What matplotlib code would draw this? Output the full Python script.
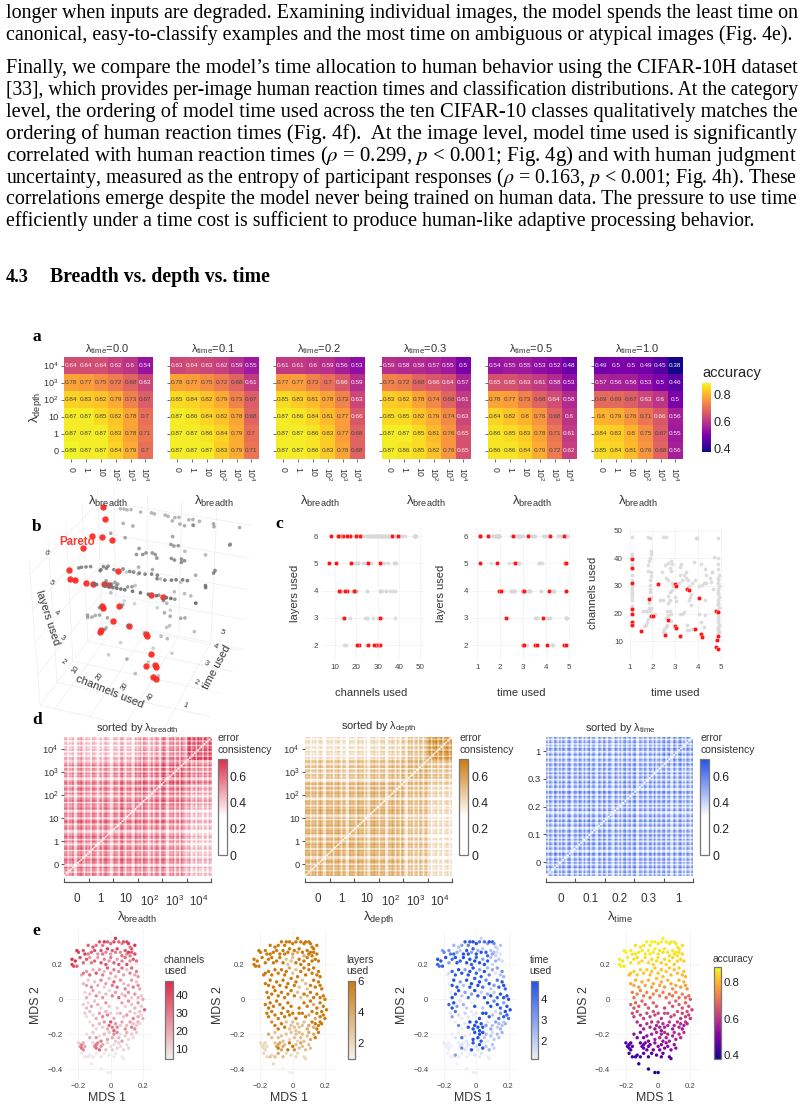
import numpy as np
import matplotlib
matplotlib.use("Agg")
import matplotlib.pyplot as plt
from matplotlib.cm import ScalarMappable
from matplotlib.colors import LinearSegmentedColormap, Normalize

W, H = 805, 1110
plt.rcParams["font.family"] = ["Liberation Sans", "DejaVu Sans"]
plt.rcParams["mathtext.fontset"] = "custom"
plt.rcParams["mathtext.rm"] = "Liberation Sans"
plt.rcParams["mathtext.it"] = "Liberation Sans:italic"
plt.rcParams["mathtext.bf"] = "Liberation Sans:bold"
plt.rcParams["grid.color"] = "#eeeeee"
plt.rcParams["grid.linewidth"] = 0.5

# ---------- body text ----------
para_lines = [
    ("longer when inputs are degraded. Examining individual images, the model spends the least time on", 18, 792),
    ("canonical, easy-to-classify examples and the most time on ambiguous or atypical images (Fig. 4e).", 40, 782),
    ("Finally, we compare the model\u2019s time allocation to human behavior using the CIFAR-10H dataset", 73, 792),
    ("[33], which provides per-image human reaction times and classification distributions. At the category", 95, 792),
    ("level, the ordering of model time used across the ten CIFAR-10 classes qualitatively matches the", 117, 792),
    ("ordering of human reaction times (Fig. 4f).  At the image level, model time used is significantly", 139, 792),
    ("correlated with human reaction times ($\\rho$ = 0.299, $p$ < 0.001; Fig. 4g) and with human judgment", 161, 792),
    ("uncertainty, measured as the entropy of participant responses ($\\rho$ = 0.163, $p$ < 0.001; Fig. 4h). These", 183, 792),
    ("correlations emerge despite the model never being trained on human data. The pressure to use time", 204, 792),
    ("efficiently under a time cost is sufficient to produce human-like adaptive processing behavior.", 226, 744),
]

# ---------- panel a: accuracy grids (rows run from lambda_depth 10^4 down to 0) ----------
lambda_time_labels = ["0.0", "0.1", "0.2", "0.3", "0.5", "1.0"]
penalty_labels = ["0", "1", "10", "$10^2$", "$10^3$", "$10^4$"]
acc_t00 = [[.64, .64, .64, .62, .6, .54], [.78, .77, .75, .72, .68, .63], [.84, .83, .82, .79, .73, .67],
           [.87, .87, .85, .82, .78, .7], [.87, .87, .87, .83, .78, .71], [.88, .87, .87, .84, .79, .7]]
acc_t01 = [[.63, .64, .63, .62, .59, .55], [.78, .77, .75, .72, .68, .61], [.85, .84, .82, .79, .73, .67],
           [.87, .86, .84, .82, .78, .68], [.87, .87, .86, .84, .79, .7], [.87, .87, .87, .83, .79, .71]]
acc_t02 = [[.61, .61, .6, .59, .56, .53], [.77, .77, .73, .7, .66, .59], [.85, .83, .81, .78, .73, .63],
           [.87, .86, .84, .81, .77, .66], [.87, .87, .86, .83, .77, .68], [.87, .87, .86, .83, .78, .68]]
acc_t03 = [[.59, .58, .58, .57, .55, .5], [.73, .72, .68, .66, .64, .57], [.83, .82, .78, .74, .68, .61],
           [.85, .85, .82, .79, .74, .63], [.87, .87, .85, .81, .76, .65], [.87, .86, .85, .82, .76, .65]]
acc_t05 = [[.54, .55, .55, .53, .52, .48], [.65, .65, .63, .61, .58, .53], [.78, .77, .73, .68, .64, .58],
           [.84, .82, .8, .76, .68, .6], [.86, .85, .83, .78, .71, .61], [.86, .86, .84, .79, .72, .62]]
acc_t10 = [[.49, .5, .5, .49, .45, .38], [.57, .56, .56, .53, .5, .46], [.69, .69, .67, .63, .6, .5],
           [.8, .79, .76, .71, .66, .56], [.84, .83, .8, .75, .67, .55], [.85, .84, .81, .76, .68, .56]]

# ---------- panels b, c: per-network resource use ----------
pareto_time = [1.1, 1.1, 1.1, 1.1, 1.1, 1.1, 1.1, 1.48, 1.84, 1.95, 2.03, 2.24, 2.66, 2.56, 3.0, 3.05,
               3.0, 3.05, 3.22, 3.52, 3.6, 3.86, 4.03, 4.1, 4.17, 4.78, 4.88, 4.85, 4.8, 4.77, 4.88]
pareto_channels = [39.7, 36.6, 31.1, 21.7, 20, 17.1, 15.7, 13.7, 25.3, 19.3, 19.1, 30.9, 17.6, 12.3, 30.9, 29.9,
                   15.4, 14.8, 11.8, 29, 28.4, 14.4, 25.5, 12.5, 11.4, 21.1, 20.5, 11.9, 10.4, 8, 7.2]
pareto_layers = [6, 6, 5, 6, 6, 6, 6, 6, 5, 4, 4, 3, 5, 6, 2, 2, 4, 4, 6, 2, 2, 3, 2, 4, 6, 2, 2, 4, 5, 6, 5]

other_time = [1.1, 1.1, 1.1, 1.1, 1.1, 1.1, 1.1, 1.1, 1.1, 1.1, 1.1, 1.1, 1.1, 1.1, 1.1,
              1.8, 1.88, 2.48, 2.6, 3.9, 3.95, 4.87,
              1.95, 1.95, 1.9, 1.85, 1.8, 1.8, 1.95, 1.95, 1.9, 1.9, 1.9, 1.9, 1.95, 1.85, 1.6, 1.7, 1.75, 1.85, 1.9, 1.95, 2.1, 1.8, 1.75, 1.65, 1.7,
              2.4, 2.55, 2.7, 2.8, 2.85, 2.75, 2.8, 2.6, 2.7, 2.85, 2.9, 2.75, 2.85, 2.7, 2.75, 2.7, 2.45, 2.35, 2.65, 2.75, 2.8, 2.7, 2.6, 2.7, 2.65, 2.6, 2.5, 2.45, 2.55, 2.8,
              3, 3.05, 3.2, 3.25, 3.2, 3.15, 3.3, 3.4, 3.45, 3.45, 3.55, 3.6, 3.75, 3.85, 3.7, 3.65, 3.6, 3.7, 3.2, 3.3, 3.4, 3.5, 3.5, 3.6, 3.75, 3.8,
              4.1, 4.3, 4.05, 4.15, 4.25, 4.35, 4.35, 4.5, 4.6, 4.55, 4.65, 4.3, 4.3, 4.05, 4.1, 4.25, 4.7, 4.6,
              4.85, 4.88, 4.86, 4.9, 4.85, 4.88, 4.87, 4.9, 4.85, 4.88, 4.86, 4.9, 4.85, 4.88, 4.87, 4.9, 4.85, 4.88, 4.86, 4.9, 4.85, 4.88, 4.87, 4.9, 4.85]
other_channels = [47.7, 41.6, 40.5, 38, 36, 34, 32, 30, 29, 28, 27, 26, 25, 22.8, 22,
                  47.8, 47.5, 47.6, 47.6, 47.4, 47.4, 47.2,
                  42.7, 41.5, 40, 39, 37.5, 35.5, 35, 33.5, 32, 30.5, 29, 28, 26, 24, 21, 21, 21, 22, 21, 22, 20, 18, 17, 15.5, 16,
                  35, 37.5, 38.5, 39, 38, 36.5, 35.5, 33, 32, 31, 30, 28, 28.5, 26.5, 25, 24, 25, 25, 21, 21, 20, 19.5, 18.5, 18, 16, 15, 14.5, 13.5, 13, 17.5,
                  26, 24.5, 37, 38, 34, 31, 32, 34, 35, 33, 32, 30, 31, 32, 27, 26, 25, 23, 20, 20, 20.5, 16, 14, 14, 14.5, 38.8,
                  38, 36, 30, 30.5, 31, 31, 34, 33, 35, 31.5, 29, 25, 19.5, 20, 17, 15, 40.6, 35.2,
                  40, 38, 36, 34, 33, 32, 31, 30, 29, 28, 27, 26, 25, 24, 23, 22, 19, 18, 17, 16, 15, 14.5, 14, 13.5, 13]
other_layers = [6, 6, 6, 6, 6, 6, 6, 6, 6, 6, 6, 6, 6, 6, 6,
                6, 6, 6, 6, 6, 6, 6,
                6, 6, 6, 6, 6, 6, 6, 6, 6, 6, 6, 6, 6, 6, 5, 6, 6, 6, 6, 6, 4, 6, 6, 6, 6,
                5, 5, 6, 6, 6, 6, 6, 5, 6, 6, 6, 6, 6, 6, 5, 5, 4, 3, 5, 5, 5, 5, 4, 5, 4, 4, 4, 4, 4, 5,
                6, 2, 4, 4, 4, 2, 4, 6, 6, 6, 3, 3, 4, 6, 5, 2, 3, 5, 4, 4, 6, 6, 3, 2, 4, 5,
                3, 4, 3, 3, 2, 4, 4, 6, 6, 6, 6, 2, 4, 6, 6, 2, 6, 6,
                6, 5, 6, 6, 6, 5, 4, 6, 6, 3, 6, 6, 4, 3, 6, 6, 6, 4, 3, 6, 6, 4, 6, 3, 6]

# ---------- panel d: error consistency, block means and per-network stripe strengths ----------
consistency_breadth = [[.5, .5, .5, .49, .47, .39], [.5, .51, .5, .49, .47, .38], [.5, .5, .51, .5, .48, .39],
                       [.49, .49, .5, .52, .52, .44], [.47, .47, .48, .52, .55, .49], [.39, .38, .39, .44, .49, .58]]
consistency_depth = [[.5, .5, .5, .49, .45, .35], [.5, .51, .5, .49, .45, .35], [.5, .5, .51, .5, .46, .36],
                     [.49, .49, .5, .5, .47, .38], [.45, .45, .46, .47, .5, .44], [.35, .35, .36, .38, .44, .55]]
consistency_time = [[.49, .48, .48, .48, .47], [.48, .49, .48, .48, .47], [.48, .48, .48, .48, .47],
                    [.48, .48, .48, .48, .47], [.47, .47, .47, .47, .49]]
stripes_breadth = [1.05, 1.1, .78, 1.0, .95, 1.15, .72, .74, 1.1, 1.05, 1.2, .98, .76, 1.1, .95,
                   1.02, .72, 1.15, 1.08, 1.0, .7, .92, 1.12, .75, 1.05, 1.18, 1.0, .95, .72, .76,
                   1.1, 1.05, .98, .74, 1.12, 1.2, .94, .7, 1.05, 1.0, 1.1, .78, .74, 1.15, 1.02,
                   .95, 1.1, .72, 1.18, 1.05, 1.0, .72, .9, 1.1, .76, 1.02, 1.15, .98, .7, 1.1,
                   1.2, 1.05, .74, .78, 1.1, .96, 1.15, .72, 1.02, 1.08, .7, 1.18, 1.0, .92, .76,
                   1.12, 1.2, .8, 1.0, 1.1, .74, 1.15, .98, 1.05, .72, 1.1, 1.02, .78, 1.15, 1.0]
stripes_depth = [1.08, 1.0, 1.12, .8, 1.05, .95, 1.1, .74, 1.02, 1.15, .98, .78, .76, 1.1, 1.05,
                 .96, 1.12, .72, 1.05, 1.0, 1.15, .94, .78, 1.08, 1.02, .72, .76, 1.12, 1.0, 1.05,
                 .95, .74, 1.15, 1.02, .98, 1.1, .72, 1.05, .78, .74, 1.1, 1.0, 1.15, .92, 1.05,
                 .74, 1.08, 1.0, 1.12, .7, .74, 1.05, .96, 1.12, 1.02, .76, 1.1, 1.0, .72, 1.15,
                 1.05, .78, .72, 1.1, .95, 1.12, .74, 1.02, 1.08, .7, 1.15, 1.0, .76, 1.05, 1.1,
                 .98, 1.15, .78, 1.08, 1.02, 1.18, .8, 1.05, 1.12, .76, 1.0, 1.1, 1.15, .82, 1.08]
stripes_time = [1.05, .76, 1.12, .92, .72, 1.18, 1.0, .74, 1.1, .78, 1.15, .95, .7, 1.05, 1.2, .76, .72, 1.1,
                1.0, .74, 1.15, 1.02, .72, 1.12, .78, .95, 1.18, .72, 1.05, 1.1, .76, .7, 1.15, .98, .74, 1.2,
                .94, .72, 1.12, 1.05, .78, .7, 1.15, 1.0, .74, 1.1, .72, 1.02, 1.18, .76, .96, 1.12, .7, 1.05,
                1.2, .74, .72, 1.1, 1.0, .78, 1.15, .94, .7, 1.12, 1.02, .76, 1.18, .72, .98, 1.1, .74, 1.05,
                1.15, .7, 1.0, 1.12, .76, .74, 1.2, .96, .72, 1.08, 1.15, .78, 1.02, .72, 1.12, 1.0, .76, 1.1]
time_labels = ["0", "0.1", "0.2", "0.3", "1"]

# ---------- panel e: MDS embedding, one line per horizontal band of the map ----------
mds_1 = [-14, -11, -9, -7, -5, -4, -2, 0, 2, 3, 5, 7, 8, 10, 11, 12, 13, 15,
         -21, -20, -17, -16, -14, -12, -10, -8, -6, -5, -3, -2, 0, 1, 3, 4, 6, 7, 9, 10, 11, 12, 13, 15,
         -24, -24, -23, -22, -21, -19, -17, -15, -13, -12, -10, -8, -6, -4, -3, -1, 0, 2, 4, 5, 7, 9, 10, 12, 14, 16,
         -18, -17, -15, -13, -11, -9, -7, -5, -4, -2, 0, 2, 3, 5, 7, 8, 10, 12, 13, 15, 16, 17,
         -17, -15, -14, -12, -10, -8, -6, -4, -3, -1, 1, 2, 4, 6, 8, 9, 11, 13, 14, 16, 17, 18,
         -16, -15, -13, -11, -9, -7, -5, -3, -1, 1, 3, 5, 7, 9, 11, 13, 15, 17, 19, 20,
         -17, -15, -14, -12, -10, -8, -6, -3, -1, 4, 7, 9, 11, 13, 15, 17, 19, 21,
         -16, -15, -13, -11, -9, -7, -5, -3, -2, 0, 2, 4, 6, 8, 10, 12, 14, 15, 17, 18, 19, 20,
         -13, -11, -9, -7, -5, -4, -2, -1, 0, 1, 2, 3, 4, 6, 7, 9, 10, 12, 13, 14, 15, 16, 17, 18,
         -15, -13, -11, -9, -7, -6, -4, -2, -1, 1, 2, 3, 4, 5, 6, 7, 9, 10, 11, 13, 14, 16,
         -20, -19, -18, -18, -17, -17, -16, -11, -10, -9, -9, -8, -7, -6, -5, -3, -2, 0, 1, 2, 4, 5, 6, 8, 10, 11,
         -18, -16, -14, -13, -11, -9, -6, -4, -1, 2, 3, 7, 8, -12, -6, -2, 0]
mds_2 = [31, 30, 31, 33, 31, 33, 33, 32, 33, 35, 33, 32, 33, 33, 32, 30, 29, 31,
         28, 27, 28, 26, 26, 27, 28, 26, 28, 26, 27, 29, 26, 28, 27, 29, 27, 25, 28, 26, 27, 25, 27, 26,
         23, 20, 19, 22, 19, 24, 21, 23, 24, 21, 22, 24, 21, 23, 20, 22, 24, 21, 23, 20, 22, 24, 20, 22, 23, 22,
         14, 15, 16, 14, 17, 15, 17, 14, 16, 18, 15, 17, 13, 16, 18, 14, 17, 15, 18, 14, 16, 13,
         9, 8, 11, 7, 10, 8, 11, 7, 9, 12, 8, 10, 7, 11, 9, 6, 8, 11, 7, 10, 8, 6,
         4, 1, 3, 5, 2, 4, 1, 3, 5, 2, 4, 1, 3, 2, 4, 1, 3, 1, 2, 0,
         -3, -5, -2, -4, -1, -3, -5, -2, -4, -5, -2, -4, -1, -3, -5, -2, -4, -6,
         -8, -10, -7, -9, -11, -8, -10, -7, -9, -8, -11, -8, -8, -10, -9, -7, -11, -8, -10, -7, -9, -11,
         -13, -15, -17, -14, -16, -13, -17, -15, -13, -16, -18, -14, -16, -15, -13, -17, -15, -13, -16, -14, -17, -15, -13, -14,
         -20, -22, -19, -22, -21, -24, -20, -23, -19, -22, -20, -24, -19, -22, -20, -24, -21, -19, -23, -20, -22, -19,
         -25, -27, -26, -28, -25, -29, -27, -25, -27, -26, -28, -25, -29, -27, -26, -29, -25, -27, -29, -26, -28, -25, -27, -29, -26, -28,
         -31, -33, -33, -32, -33, -31, -33, -31, -32, -33, -31, -33, -34, -37, -40, -42, -42]
mds_channels = [35, 38, 32, 40, 30, 44, 36, 34, 42, 45, 35, 28, 38, 40, 44, 30, 38, 46,
                46, 42, 38, 44, 30, 36, 40, 26, 38, 32, 28, 44, 24, 36, 30, 42, 26, 34, 38, 28, 44, 30, 38, 42,
                47, 44, 40, 46, 36, 40, 34, 38, 24, 30, 36, 22, 38, 28, 40, 24, 30, 36, 22, 38, 28, 34, 40, 26, 38, 32,
                20, 30, 24, 34, 18, 38, 22, 30, 16, 36, 24, 30, 18, 26, 34, 22, 14, 28, 34, 20, 30, 24,
                16, 22, 12, 26, 14, 18, 28, 12, 22, 16, 30, 36, 34, 24, 14, 28, 18, 22, 30, 14, 26, 20,
                10, 18, 14, 20, 26, 12, 24, 16, 10, 28, 22, 34, 14, 20, 26, 12, 24, 18, 14, 20,
                12, 16, 10, 22, 14, 18, 10, 24, 14, 12, 22, 12, 26, 14, 18, 24, 14, 36,
                12, 8, 14, 10, 18, 22, 28, 16, 30, 12, 20, 10, 18, 14, 24, 16, 28, 12, 20, 14, 10, 18,
                8, 14, 10, 18, 12, 24, 20, 34, 38, 30, 36, 24, 28, 14, 20, 26, 16, 22, 30, 14, 26, 12, 18, 10,
                8, 20, 12, 24, 8, 30, 18, 22, 14, 20, 26, 12, 28, 16, 8, 22, 12, 18, 10, 14, 8, 12,
                12, 24, 30, 34, 18, 28, 22, 10, 26, 32, 34, 28, 34, 24, 20, 14, 10, 8, 12, 8, 10, 12, 8, 10, 8, 10,
                6, 8, 6, 6, 6, 5, 6, 5, 6, 5, 5, 5, 5, 5, 4, 4, 4]
mds_layers = [6, 6, 6, 6, 6, 6, 6, 6, 6, 6, 6, 6, 6, 6, 6, 6, 6, 6,
              6, 6, 6, 6, 6, 6, 6, 6, 6, 6, 6, 6, 4, 6, 4, 6, 6, 4, 6, 6, 6, 6, 6, 6,
              6, 6, 6, 6, 6, 6, 6, 6, 6, 6, 6, 6, 6, 3, 3, 3, 3, 6, 6, 6, 6, 6, 6, 6, 6, 6,
              6, 6, 6, 6, 6, 6, 6, 6, 6, 4, 3, 3, 6, 6, 6, 6, 6, 6, 6, 6, 6, 6,
              6, 6, 6, 6, 6, 6, 6, 6, 6, 6, 6, 6, 3, 3, 3, 3, 6, 6, 6, 6, 6, 6,
              6, 6, 6, 6, 6, 6, 6, 6, 6, 6, 3, 3, 6, 4, 6, 6, 6, 6, 6, 6,
              6, 6, 6, 6, 6, 6, 6, 6, 6, 6, 6, 6, 6, 4, 6, 6, 6, 6,
              6, 6, 6, 6, 6, 6, 6, 6, 6, 6, 6, 6, 6, 6, 4, 6, 4, 6, 6, 6, 6, 6,
              5, 6, 6, 6, 6, 3, 3, 3, 3, 3, 3, 3, 3, 3, 3, 4, 4, 6, 4, 6, 6, 6, 6, 6,
              4, 3, 3, 3, 3, 3, 3, 2, 3, 3, 3, 2, 3, 3, 3, 3, 3, 4, 4, 4, 6, 6,
              2, 2, 2, 2, 2, 2, 2, 3, 4, 4, 6, 4, 4, 4, 3, 6, 6, 6, 5, 3, 3, 4, 3, 3, 3, 3,
              2, 2, 3, 2, 3, 4, 3, 2, 2, 2, 2, 2, 2, 2, 1, 1, 1]
mds_time = [25, 22, 30, 46, 38, 48, 49, 49, 40, 18, 42, 30, 48, 46, 35, 20, 16, 22,
            30, 36, 32, 40, 44, 28, 20, 48, 46, 48, 30, 46, 48, 26, 48, 20, 46, 42, 22, 30, 24, 18, 15, 14,
            48, 44, 40, 48, 46, 49, 30, 42, 49, 48, 46, 49, 48, 49, 46, 49, 44, 48, 30, 49, 46, 22, 18, 26, 20, 16,
            12, 16, 44, 46, 49, 48, 30, 49, 48, 49, 45, 30, 46, 49, 24, 36, 28, 14, 30, 22, 34, 26,
            12, 48, 49, 46, 30, 22, 48, 49, 49, 46, 49, 49, 42, 36, 49, 20, 30, 40, 44, 48, 49, 44,
            12, 49, 46, 48, 20, 30, 42, 30, 49, 46, 20, 48, 28, 49, 20, 44, 49, 48, 49, 48,
            44, 48, 49, 30, 14, 26, 20, 12, 49, 20, 48, 49, 36, 49, 44, 30, 49, 49,
            14, 30, 40, 16, 12, 18, 14, 12, 12, 14, 49, 49, 49, 46, 22, 16, 40, 30, 46, 49, 44, 40,
            12, 36, 12, 14, 49, 49, 49, 49, 49, 49, 49, 49, 49, 30, 14, 28, 22, 30, 20, 24, 26, 22, 20, 26,
            12, 14, 12, 40, 12, 14, 12, 49, 49, 49, 49, 46, 49, 20, 24, 12, 22, 16, 20, 24, 22, 26,
            12, 11, 11, 11, 11, 11, 11, 12, 14, 14, 36, 12, 14, 12, 14, 48, 49, 16, 14, 49, 48, 12, 20, 26, 22, 18,
            11, 11, 11, 30, 12, 12, 11, 11, 14, 12, 14, 11, 12, 11, 11, 11, 11]
mds_accuracy = [85, 86, 86, 87, 86, 87, 87, 86, 87, 87, 86, 86, 87, 87, 86, 86, 85, 85,
                87, 87, 87, 86, 86, 86, 87, 86, 87, 86, 86, 87, 86, 86, 85, 86, 86, 85, 86, 85, 86, 85, 85, 84,
                87, 87, 87, 86, 87, 86, 85, 85, 85, 85, 84, 85, 85, 84, 84, 85, 85, 83, 84, 84, 85, 84, 83, 84, 84, 83,
                81, 82, 83, 82, 83, 82, 83, 81, 82, 83, 82, 82, 81, 82, 83, 81, 82, 81, 83, 80, 81, 80,
                78, 78, 80, 77, 79, 78, 80, 77, 79, 81, 78, 79, 76, 80, 78, 75, 78, 80, 76, 79, 77, 75,
                72, 70, 72, 74, 71, 73, 70, 73, 74, 71, 72, 70, 71, 70, 73, 70, 72, 70, 70, 67,
                68, 65, 68, 66, 69, 67, 65, 68, 66, 63, 68, 65, 69, 67, 65, 68, 65, 62,
                64, 62, 65, 64, 62, 64, 62, 65, 63, 64, 61, 64, 64, 62, 63, 65, 61, 63, 61, 64, 62, 60,
                59, 57, 56, 59, 57, 60, 55, 58, 60, 57, 54, 59, 57, 58, 60, 56, 58, 60, 57, 59, 55, 57, 60, 59,
                53, 50, 53, 50, 54, 50, 56, 56, 58, 57, 57, 54, 58, 57, 58, 56, 58, 59, 57, 59, 58, 60,
                47, 45, 45, 45, 46, 44, 45, 47, 47, 49, 47, 49, 48, 49, 50, 50, 53, 52, 51, 53, 52, 54, 53, 52, 54, 53,
                44, 43, 43, 44, 44, 46, 44, 46, 45, 46, 47, 46, 46, 41, 40, 39, 39]

RED = "#dc2c48"
ORANGE = "#cc7a0c"
BLUE = "#2050e8"
DARK = "#333333"

fig = plt.figure(figsize=(W / 100, H / 100), dpi=100)


def px_axes(x0, y0, x1, y1, **kw):
    return fig.add_axes([x0 / W, 1 - y1 / H, (x1 - x0) / W, (y1 - y0) / H], **kw)


def label(x, y, s, **kw):
    kw.setdefault("ha", "center")
    kw.setdefault("va", "center")
    kw.setdefault("color", DARK)
    return fig.text(x / W, 1 - y / H, s, **kw)


def colorbar(cmap, vmin, vmax, rect, ticks, labels, size, framed=True):
    cax = px_axes(*rect)
    cb = fig.colorbar(ScalarMappable(Normalize(vmin, vmax), cmap), cax=cax)
    cb.set_ticks(ticks, labels=labels)
    cax.tick_params(length=0, labelsize=size, pad=2, labelcolor="#222222")
    cb.outline.set_visible(framed)
    cb.outline.set_edgecolor("#777777")
    cb.outline.set_linewidth(0.9)
    return cb


# body text, each line scaled to its measured column width
renderer = fig.canvas.get_renderer()
for line, baseline, width in para_lines:
    t = label(6, baseline, line, ha="left", va="baseline", family="Liberation Serif",
              fontsize=12.6, color="black", math_fontfamily="stix")
    t.set_fontsize(12.6 * width / t.get_window_extent(renderer).width)
label(6, 282, "4.3", ha="left", va="baseline", family="Liberation Serif", weight="bold", fontsize=13.2, color="black")
head = label(50, 282, "Breadth vs. depth vs. time", ha="left", va="baseline", family="Liberation Serif",
             weight="bold", fontsize=13.2, color="black")
head.set_fontsize(13.2 * 221 / head.get_window_extent(renderer).width)

for letter, x, y in [("a", 37, 337), ("b", 37, 527), ("c", 279, 524), ("d", 37, 720), ("e", 36, 931)]:
    label(x, y, letter, family="Liberation Serif", weight="bold", fontsize=12.5, color="black")

# ---------- panel a ----------
grid_left = [64, 170, 276, 382, 488, 594]
acc_grids = [acc_t00, acc_t01, acc_t02, acc_t03, acc_t05, acc_t10]
for i, (left, acc, lt) in enumerate(zip(grid_left, acc_grids, lambda_time_labels)):
    ax = px_axes(left, 357, left + 88.7, 459)
    grid = np.array(acc)
    ax.imshow(grid, cmap="plasma", vmin=0.375, vmax=0.885, aspect="auto", interpolation="nearest")
    for r in range(6):
        for c in range(6):
            ax.text(c, r, f"{grid[r, c]:g}", ha="center", va="center", fontsize=4.6,
                    color="#444444" if grid[r, c] >= 0.665 else "#f8f2f8")
    ax.set_xticks(range(6), penalty_labels, rotation=270, fontsize=6.3, color=DARK)
    ax.set_yticks(range(6), penalty_labels[::-1] if i == 0 else [""] * 6, fontsize=6.6, color=DARK)
    ax.tick_params(axis="x", length=2.2, width=0.6, pad=3.5, color="#555555")
    ax.tick_params(axis="y", length=2.2, width=0.6, pad=1.5, color="#555555")
    for s in ax.spines.values():
        s.set_visible(False)
    label(left + 43, 349, f"\u03bb$_{{\\mathrm{{time}}}}$={lt}", fontsize=8)
    label(left + 44, 501, "\u03bb$_{\\mathrm{breadth}}$", fontsize=9.5)
label(35, 407, "\u03bb$_{\\mathrm{depth}}$", fontsize=9.5, rotation=90)
colorbar("plasma", 0.375, 0.885, (702, 383, 711, 452), [0.4, 0.6, 0.8], ["0.4", "0.6", "0.8"], 9.2, framed=False)
label(702, 373, "accuracy", ha="left", fontsize=10.5, color="#222222")

# ---------- panel b ----------
ax3 = px_axes(0, 470, 285, 755, projection="3d")
ax3.patch.set_alpha(0)
ax3.set_proj_type("persp", focal_length=0.6)
ax3.view_init(elev=32, azim=-70)
ax3.set_box_aspect((1, 1, 1), zoom=0.98)
ax3.scatter(other_channels, other_time, other_layers, color="#707070", s=7, linewidths=0, depthshade=True)
ax3.scatter(pareto_channels, pareto_time, pareto_layers, color="#ff2a24", s=21, linewidths=0, depthshade=False, alpha=0.95)
ax3.set_xlim(5.6, 50)
ax3.set_ylim(1, 5.1)
ax3.set_zlim(2, 6.4)
ax3.set_xticks([10, 20, 30, 40], [""] * 4)
ax3.set_yticks([1, 2, 3, 4, 5], [""] * 5)
ax3.set_zticks([2, 3, 4, 5, 6], [""] * 5)
for axis in (ax3.xaxis, ax3.yaxis, ax3.zaxis):
    axis.set_pane_color((1, 1, 1, 0))
    axis.pane.set_edgecolor("#f0f0f0")
    axis.line.set_color((1, 1, 1, 0))
    axis._axinfo["tick"]["inward_factor"] = 0
    axis._axinfo["tick"]["outward_factor"] = 0
for txt, x, y in [("6", 46, 553), ("5", 51, 583), ("4", 56, 613), ("3", 62, 638), ("2", 63, 662)]:
    label(x, y, txt, fontsize=5.5, rotation=-35)
for txt, x, y in [("10", 76, 670), ("20", 100, 677), ("30", 125, 687), ("40", 151, 697)]:
    label(x, y, txt, fontsize=5.5, rotation=55)
for txt, x, y in [("1", 185, 706), ("2", 196, 683), ("3", 206, 664), ("4", 215, 647), ("5", 222, 633)]:
    label(x, y, txt, fontsize=5.5, rotation=-25)
label(48, 618, "layers used", fontsize=8, rotation=-72)
label(110, 692, "channels used", fontsize=8, rotation=-22)
label(217, 667, "time used", fontsize=8, rotation=62)
label(77, 542, "Pareto", fontsize=8.3, weight="bold", color="#ff3b30")

# ---------- panel c ----------
scatter_panels = [
    ((322, 528, 425, 660), other_channels, other_layers, pareto_channels, pareto_layers,
     (3.9, 52.2), (1.45, 6.3), [10, 20, 30, 40, 50], [2, 3, 4, 5, 6], "channels used", "layers used", 371, 295),
    ((472, 528, 572, 660), other_time, other_layers, pareto_time, pareto_layers,
     (0.77, 5.12), (1.45, 6.3), [1, 2, 3, 4, 5], [2, 3, 4, 5, 6], "time used", "layers used", 521, 441),
    ((627, 528, 725, 660), other_time, other_channels, pareto_time, pareto_channels,
     (0.89, 5.17), (3.2, 51), [1, 2, 3, 4, 5], [10, 20, 30, 40, 50], "time used", "channels used", 675, 593),
]
for rect, gx, gy, rx, ry, xlim, ylim, xt, yt, xlab, ylab, xlab_x, ylab_x in scatter_panels:
    ax = px_axes(*rect)
    ax.scatter(gx, gy, s=7.5, color="#d8d8d8", linewidths=0, alpha=0.85, zorder=2)
    ax.scatter(rx, ry, s=10, color="#ff1414", edgecolors="white", linewidths=0.25, zorder=3)
    ax.set_xlim(*xlim)
    ax.set_ylim(*ylim)
    ax.set_xticks(xt)
    ax.set_yticks(yt)
    ax.tick_params(length=0, labelsize=5.8, labelcolor="#444444", pad=3)
    ax.grid(True, color="#f2f2f2", linewidth=0.5, zorder=0)
    ax.set_axisbelow(True)
    for s in ax.spines.values():
        s.set_visible(False)
    label(xlab_x, 693, xlab, fontsize=8)
    label(ylab_x, 593, ylab, fontsize=8, rotation=90)

# ---------- panel d ----------
def white_to(color, stop=0.4):
    return LinearSegmentedColormap.from_list("ec", [(0, "white"), (stop, "white"), (1, color)])


def consistency_matrix(blocks, stripes):
    blocks = np.array(blocks)
    stripes = np.array(stripes)
    n = len(stripes)
    group = np.arange(n) * len(blocks) // n
    matrix = blocks[np.ix_(group, group)] * np.outer(stripes, stripes)
    np.fill_diagonal(matrix, 0)
    return matrix


matrix_panels = [
    (64, 217.7, consistency_breadth, stripes_breadth, RED, "breadth", penalty_labels, 137),
    (305, 459.3, consistency_depth, stripes_depth, ORANGE, "depth", penalty_labels, 379),
    (546, 700.3, consistency_time, stripes_time, BLUE, "time", time_labels, 620),
]
for left, bar_left, blocks, stripes, color, name, tick_labels, cx in matrix_panels:
    ax = px_axes(left, 737.3, left + 147, 876)
    n = len(stripes)
    m = len(tick_labels)
    cmap = white_to(color)
    ax.imshow(consistency_matrix(blocks, stripes), cmap=cmap, vmin=0, vmax=0.74, origin="lower",
              aspect="auto", extent=(0, n, 0, n))
    edges = np.linspace(0, n, m + 1)
    centers = (edges[:-1] + edges[1:]) / 2
    ax.set_xticks(edges, [""] * (m + 1))
    ax.set_xticks(centers, tick_labels, minor=True)
    ax.set_yticks(centers, tick_labels, fontsize=6.8, color=DARK)
    ax.tick_params(axis="x", which="major", direction="in", length=2.8, width=0.8, color="#555555")
    ax.tick_params(axis="x", which="minor", length=0, pad=8, labelsize=8.4, labelcolor=DARK)
    ax.tick_params(axis="y", length=2.4, width=0.7, pad=1.5, color="#555555")
    for side in ("top", "left", "right"):
        ax.spines[side].set_visible(False)
    ax.spines["bottom"].set_position(("outward", 4.6))
    ax.spines["bottom"].set_color("#555555")
    ax.spines["bottom"].set_linewidth(0.9)
    label(cx, 728, f"sorted by \u03bb$_{{\\mathrm{{{name}}}}}$", fontsize=8)
    label(cx, 917, f"\u03bb$_{{\\mathrm{{{name}}}}}$", fontsize=9.5)
    colorbar(cmap, 0, 0.74, (bar_left, 758.7, bar_left + 9, 855), [0, 0.2, 0.4, 0.6], ["0", "0.2", "0.4", "0.6"], 8.8)
    label(bar_left, 744, "error\nconsistency", ha="left", fontsize=7.5, linespacing=1.15)

# ---------- panel e ----------
mds_x = np.array(mds_1) / 100
mds_y = np.array(mds_2) / 100
fade = lambda low, high: LinearSegmentedColormap.from_list("fade", [low, high])
embed_panels = [
    (65.6, mds_channels, 1, fade("#f0eeee", RED), 4.2, 48, (165, 172.7), [10, 20, 30, 40], ["10", "20", "30", "40"], "channels\nused", 36, 981),
    (247.6, mds_layers, 1, fade("#f4f1ec", ORANGE), 0.97, 6, (347.7, 355), [2, 4, 6], ["2", "4", "6"], "layers\nused", 218, 981),
    (431.2, mds_time, 10, fade("#eef0f6", BLUE), 1.11, 4.88, (530.7, 538), [2, 3, 4], ["2", "3", "4"], "time\nused", 402, 981),
    (613, mds_accuracy, 100, matplotlib.colormaps["plasma"], 0.38, 0.88, (713.7, 720.7), [0.4, 0.6, 0.8], ["0.4", "0.6", "0.8"], "accuracy", 584, 967),
]
for left, values, scale, cmap, vmin, vmax, bar_x, ticks, tick_text, title, ylab_x, bar_top in embed_panels:
    ax = px_axes(left, 930, left + 87, 1080)
    ax.scatter(mds_x, mds_y, c=np.array(values) / scale, cmap=cmap, vmin=vmin, vmax=vmax, s=6, linewidths=0, zorder=2)
    ax.set_xlim(-0.28, 0.26)
    ax.set_ylim(-0.463, 0.398)
    ax.set_xticks([-0.2, 0, 0.2], ["\u22120.2", "0", "0.2"])
    ax.set_yticks([-0.4, -0.2, 0, 0.2], ["\u22120.4", "\u22120.2", "0", "0.2"])
    ax.tick_params(length=0, labelsize=5.6, labelcolor="#444444", pad=2)
    ax.grid(True, color="#f2f2f2", linewidth=0.5, zorder=0)
    ax.set_axisbelow(True)
    for s in ax.spines.values():
        s.set_visible(False)
    label(left + 41.5, 1098, "MDS 1", fontsize=8.9)
    label(ylab_x, 1005, "MDS 2", fontsize=8.9, rotation=90)
    colorbar(cmap, vmin, vmax, (bar_x[0], bar_top, bar_x[1], 1059), ticks, tick_text, 8.2)
    label(bar_x[0] - 1, 959 if title == "accuracy" else 965.5, title, ha="left", fontsize=7.4, linespacing=1.2)

fig.savefig("out.png", dpi=100)
